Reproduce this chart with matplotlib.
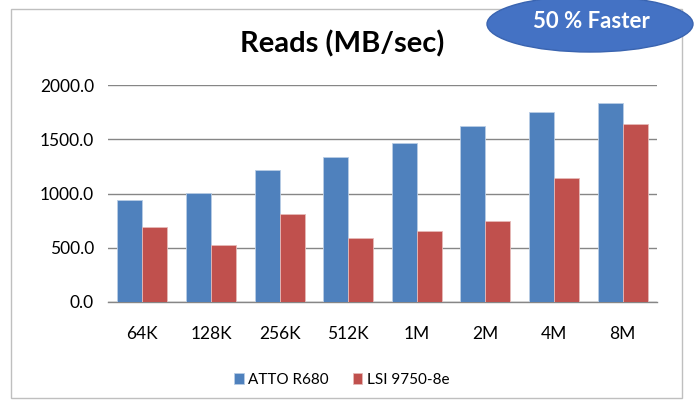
import numpy as np
import matplotlib
matplotlib.use("Agg")
import matplotlib.pyplot as plt
from matplotlib.patches import Ellipse, Rectangle

# read throughput, MB/sec
categories = ["64K", "128K", "256K", "512K", "1M", "2M", "4M", "8M"]
atto_r680 = [941, 1003, 1219, 1336, 1463, 1620, 1747, 1836]
lsi_9750 = [694, 528, 812, 590, 657, 750, 1145, 1645]
series_names = ["ATTO R680", "LSI 9750-8e"]
yticks = [0, 500, 1000, 1500, 2000]

plt.rcParams['font.family'] = ['Lato', 'DejaVu Sans']

W, H = 695, 404
fig = plt.figure(figsize=(W / 100, H / 100), dpi=100)
ax = fig.add_axes([108 / W, 1 - 302 / H, (657 - 108) / W, (302 - 85) / H])

x = np.arange(len(categories))
bw = 0.365
b1 = ax.bar(x - bw / 2, atto_r680, bw, color="#4F81BD", edgecolor="#B9CDE5", linewidth=0.6, label=series_names[0], zorder=3)
b2 = ax.bar(x + bw / 2, lsi_9750, bw, color="#C0504D", edgecolor="#E6B9B8", linewidth=0.6, label=series_names[1], zorder=3)

ax.set_xlim(-0.5, len(categories) - 0.5)
ax.set_ylim(0, 2000)
ax.set_yticks(yticks)
ax.set_yticklabels(["%.1f" % v for v in yticks])
ax.set_xticks(x)
ax.set_xticklabels(categories)
ax.tick_params(axis="both", length=0, labelsize=12.5, colors="black")
ax.tick_params(axis="y", pad=10)
ax.tick_params(axis="x", pad=17)
ax.grid(axis="y", color="#868686", linewidth=1, zorder=0)
for s in ["top", "right", "left"]:
    ax.spines[s].set_visible(False)
ax.spines["bottom"].set_color("#868686")
ax.spines["bottom"].set_linewidth(1)

fig.text(342 / W, 1 - 44 / H, "Reads (MB/sec)", ha="center", va="center",
         fontsize=21, fontweight="bold")

leg = fig.legend(handles=[b1, b2], labels=series_names, loc="center",
                 bbox_to_anchor=(342 / W, 1 - 380 / H), ncol=2, frameon=False,
                 fontsize=11, handlelength=0.6, handleheight=0.7,
                 handletextpad=0.3, columnspacing=1.6)

# chart border
fig.patches.append(Rectangle((11 / W, 1 - 398 / H), (682 - 11) / W, (398 - 9) / H,
                             transform=fig.transFigure, fill=False,
                             edgecolor="#BFBFBF", linewidth=1))

# callout bubble
fig.patches.append(Ellipse((590 / W, 1 - 24 / H), 206 / W, 56 / H,
                           transform=fig.transFigure, facecolor="#4472C4",
                           edgecolor="#3A64B0", linewidth=1, zorder=5))
fig.text(591 / W, 1 - 22 / H, "50 % Faster", ha="center", va="center",
         fontsize=16, fontweight="bold", color="white", zorder=6)

fig.savefig("out.png", dpi=100)
